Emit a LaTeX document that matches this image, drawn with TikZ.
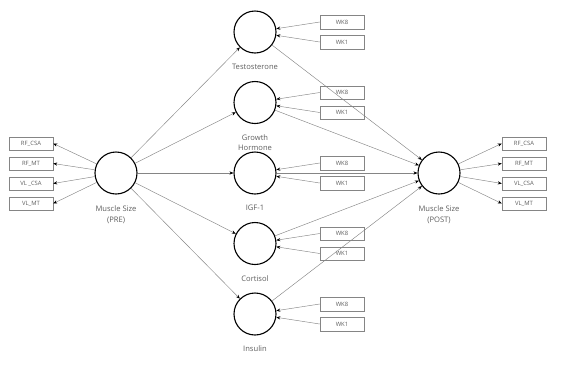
\documentclass[tikz,border=0pt]{standalone}
\usepackage{fontspec}
\setmainfont{Open Sans}
\usetikzlibrary{positioning,arrows.meta}
\definecolor{lblgray}{HTML}{5E5E5E}
\definecolor{linegray}{HTML}{858585}

\begin{document}
\begin{tikzpicture}[x=1pt,y=-1pt,font=\fontsize{7.6}{10.5}\selectfont,
    latent/.style={circle,draw=black,line width=1.1pt,minimum size=42pt,inner sep=0pt},
    ind/.style={draw=linegray,line width=0.5pt,minimum width=44pt,minimum height=13.5pt,inner sep=0pt,text=lblgray,font=\fontsize{5.9}{6}\selectfont},
    lbl/.style={text=lblgray,align=center},
    link/.style={draw=linegray,line width=0.45pt,-{Stealth[length=4pt,width=3.2pt,color=black]}}]
  \useasboundingbox (0,0) rectangle (570,365);
  % latent variables
  \node[latent] (pre) at (116,173) {};
  \node[lbl,below=8pt of pre] (pre-lbl) {Muscle Size\\(PRE)};
  \node[latent] (post) at (439,173) {};
  \node[lbl,below=8pt of post] (post-lbl) {Muscle Size\\(POST)};
  \foreach \n/\y/\t in {testo/32/Testosterone,gh/102.5/{Growth\\Hormone},igf/173/IGF-1,cort/243.5/Cortisol,ins/314/Insulin}{
    \node[latent] (\n) at (255,\y) {};
    \node[lbl,below=7pt of \n] (\n-lbl) {\t};
    \node[ind] (\n-wk8) at (342,\y-10) {WK8};
    \node[ind] (\n-wk1) at (342,\y+10) {WK1};
  }
  % indicators of muscle size
  \foreach \n/\t/\s [count=\i] in {rfcsa/RF\_CSA/RF\_CSA,rfmt/RF\_MT/RF\_MT,vlcsa/VL \_CSA/VL\_CSA,vlmt/VL\_MT/VL\_MT}{
    \node[ind] (pre-\n) at (31,123.5+20*\i) {\t};
    \node[ind] (post-\n) at (524,123.5+20*\i) {\s};
    \draw[link] (pre) -- (pre-\n.east);
    \draw[link] (post) -- (post-\n.west);
  }
  % paths
  \foreach \n in {testo,gh,igf,cort,ins}{
    \draw[link] (pre) -- (\n);
    \draw[link] (\n) -- (post);
    \draw[link] (\n-wk8.west) -- (\n);
    \draw[link] (\n-wk1.west) -- (\n);
  }
\end{tikzpicture}
\end{document}
